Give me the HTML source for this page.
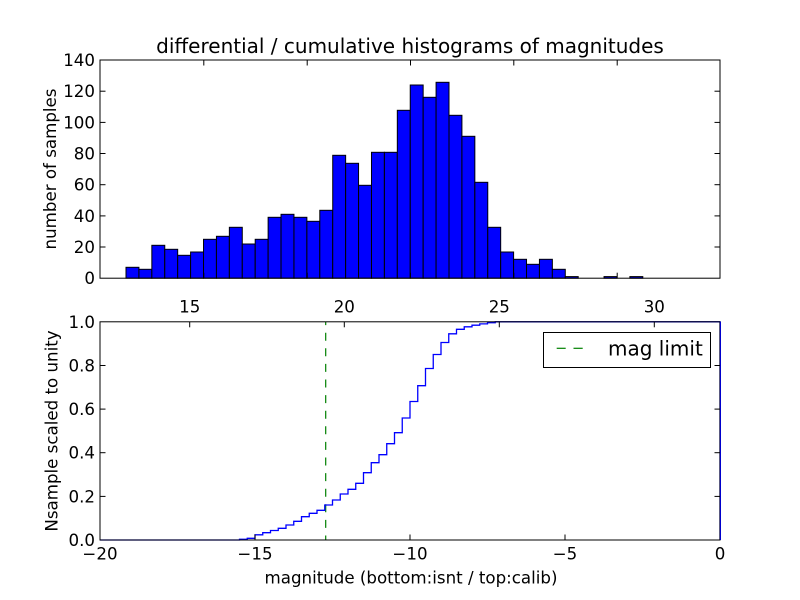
<!DOCTYPE html>
<html>
<head>
<meta charset="utf-8">
<style>
html,body{margin:0;padding:0;background:#fff;}
svg{display:block;}
text{font-family:"DejaVu Sans","Liberation Sans",sans-serif;fill:#000;}
</style>
</head>
<body>
<svg width="800" height="600" viewBox="0 0 800 600" xmlns="http://www.w3.org/2000/svg">
<rect x="0" y="0" width="800" height="600" fill="#fff"/>

<!-- ============ TOP HISTOGRAM ============ -->
<g fill="#0000ff" stroke="#000" stroke-width="1">
<rect x="126.00" y="267.3" width="12.92" height="10.9"/>
<rect x="138.92" y="269.3" width="12.92" height="8.9"/>
<rect x="151.84" y="245.3" width="12.92" height="32.9"/>
<rect x="164.76" y="249.3" width="12.92" height="28.9"/>
<rect x="177.68" y="255.3" width="12.92" height="22.9"/>
<rect x="190.60" y="252.0" width="12.92" height="26.2"/>
<rect x="203.52" y="239.3" width="12.92" height="38.9"/>
<rect x="216.44" y="236.3" width="12.92" height="41.9"/>
<rect x="229.36" y="227.3" width="12.92" height="50.9"/>
<rect x="242.28" y="244.0" width="12.92" height="34.2"/>
<rect x="255.20" y="239.3" width="12.92" height="38.9"/>
<rect x="268.12" y="217.3" width="12.92" height="60.9"/>
<rect x="281.04" y="214.3" width="12.92" height="63.9"/>
<rect x="293.96" y="217.3" width="12.92" height="60.9"/>
<rect x="306.88" y="221.3" width="12.92" height="56.9"/>
<rect x="319.80" y="210.3" width="12.92" height="67.9"/>
<rect x="332.72" y="155.3" width="12.92" height="122.9"/>
<rect x="345.64" y="163.3" width="12.92" height="114.9"/>
<rect x="358.56" y="185.3" width="12.92" height="92.9"/>
<rect x="371.48" y="152.3" width="12.92" height="125.9"/>
<rect x="384.40" y="152.3" width="12.92" height="125.9"/>
<rect x="397.32" y="110.3" width="12.92" height="167.9"/>
<rect x="410.24" y="85.0" width="12.92" height="193.2"/>
<rect x="423.16" y="97.3" width="12.92" height="180.9"/>
<rect x="436.08" y="82.3" width="12.92" height="195.9"/>
<rect x="449.00" y="115.3" width="12.92" height="162.9"/>
<rect x="461.92" y="136.3" width="12.92" height="141.9"/>
<rect x="474.84" y="182.3" width="12.92" height="95.9"/>
<rect x="487.76" y="227.3" width="12.92" height="50.9"/>
<rect x="500.68" y="252.0" width="12.92" height="26.2"/>
<rect x="513.60" y="259.3" width="12.92" height="18.9"/>
<rect x="526.52" y="264.3" width="12.92" height="13.9"/>
<rect x="539.44" y="259.3" width="12.92" height="18.9"/>
<rect x="552.36" y="269.3" width="12.92" height="8.9"/>
<rect x="565.28" y="276.6" width="12.92" height="1.6"/>
<rect x="604.04" y="276.6" width="12.92" height="1.6"/>
<rect x="629.88" y="276.6" width="12.92" height="1.6"/>
</g>

<!-- top axes frame -->
<rect x="100" y="60" width="620" height="218.2" fill="none" stroke="#000" stroke-width="1"/>

<!-- top ticks -->
<g stroke="#000" stroke-width="1">
  <!-- left/right y ticks -->
  <line x1="100" y1="247.0" x2="105.5" y2="247.0"/><line x1="720" y1="247.0" x2="714.5" y2="247.0"/>
  <line x1="100" y1="215.9" x2="105.5" y2="215.9"/><line x1="720" y1="215.9" x2="714.5" y2="215.9"/>
  <line x1="100" y1="184.7" x2="105.5" y2="184.7"/><line x1="720" y1="184.7" x2="714.5" y2="184.7"/>
  <line x1="100" y1="153.5" x2="105.5" y2="153.5"/><line x1="720" y1="153.5" x2="714.5" y2="153.5"/>
  <line x1="100" y1="122.4" x2="105.5" y2="122.4"/><line x1="720" y1="122.4" x2="714.5" y2="122.4"/>
  <line x1="100" y1="91.2" x2="105.5" y2="91.2"/><line x1="720" y1="91.2" x2="714.5" y2="91.2"/>
  <!-- top/bottom x ticks -->
  <line x1="203.8" y1="60" x2="203.8" y2="65.5"/><line x1="203.8" y1="278.2" x2="203.8" y2="272.7"/>
  <line x1="307.2" y1="60" x2="307.2" y2="65.5"/><line x1="307.2" y1="278.2" x2="307.2" y2="272.7"/>
  <line x1="410.5" y1="60" x2="410.5" y2="65.5"/><line x1="410.5" y1="278.2" x2="410.5" y2="272.7"/>
  <line x1="513.8" y1="60" x2="513.8" y2="65.5"/><line x1="513.8" y1="278.2" x2="513.8" y2="272.7"/>
  <line x1="617.2" y1="60" x2="617.2" y2="65.5"/><line x1="617.2" y1="278.2" x2="617.2" y2="272.7"/>
</g>

<!-- top y tick labels -->
<g font-size="16.67" text-anchor="end">
  <text x="95" y="284.2">0</text>
  <text x="95" y="253.0">20</text>
  <text x="95" y="221.9">40</text>
  <text x="95" y="190.7">60</text>
  <text x="95" y="159.5">80</text>
  <text x="95" y="128.4">100</text>
  <text x="95" y="97.2">120</text>
  <text x="95" y="66.0">140</text>
</g>

<text x="410" y="53" font-size="20" text-anchor="middle">differential / cumulative histograms of magnitudes</text>
<text transform="translate(56,169) rotate(-90)" font-size="16.67" text-anchor="middle">number of samples</text>

<!-- ============ BOTTOM PLOT ============ -->
<!-- green dashed mag limit -->
<line x1="325.7" y1="321.8" x2="325.7" y2="540" stroke="#008000" stroke-width="1.2" stroke-dasharray="8 7.6" stroke-dashoffset="4.7"/>

<!-- cumulative step -->
<path d="M100,540 H239.5 V539.3 H247.25 V538.3 H255 V534.8 H262.75 V532.7 H270.5 V530.5 H278.25 V528.3 H286 V525 H293.75 V521.3 H301.5 V516.7 H309.25 V513.3 H317 V510.3 H324.75 V505 H332.5 V500 H340.25 V494 H348 V489.3 H355.75 V483.3 H363.5 V472.7 H371.25 V462.7 H379 V454.7 H386.75 V443.7 H394.5 V432.7 H402.25 V418 H410 V401.5 H417.75 V385.7 H425.5 V368.5 H433.25 V354.5 H441 V342.5 H448.75 V333.8 H456.5 V329.3 H464.25 V326.8 H472 V325.2 H479.75 V323.9 H487.5 V322.7 H495.25 V321.8 H720 V540" fill="none" stroke="#0000ff" stroke-width="1.3"/>

<!-- bottom axes frame -->
<rect x="100" y="321.8" width="620" height="218.2" fill="none" stroke="#000" stroke-width="1"/>
<line x1="720.6" y1="321.8" x2="720.6" y2="540" stroke="#0000ff" stroke-width="0.8"/>

<g stroke="#000" stroke-width="1">
  <!-- bottom x ticks -->
  <line x1="255" y1="540" x2="255" y2="534.5"/>
  <line x1="410" y1="540" x2="410" y2="534.5"/>
  <line x1="565" y1="540" x2="565" y2="534.5"/>
  <!-- top twin x ticks -->
  <line x1="189.7" y1="321.8" x2="189.7" y2="327.3"/>
  <line x1="344.3" y1="321.8" x2="344.3" y2="327.3"/>
  <line x1="499.3" y1="321.8" x2="499.3" y2="327.3"/>
  <line x1="654.3" y1="321.8" x2="654.3" y2="327.3"/>
  <!-- y ticks -->
  <line x1="100" y1="496.4" x2="105.5" y2="496.4"/><line x1="720" y1="496.4" x2="714.5" y2="496.4"/>
  <line x1="100" y1="452.7" x2="105.5" y2="452.7"/><line x1="720" y1="452.7" x2="714.5" y2="452.7"/>
  <line x1="100" y1="409.1" x2="105.5" y2="409.1"/><line x1="720" y1="409.1" x2="714.5" y2="409.1"/>
  <line x1="100" y1="365.5" x2="105.5" y2="365.5"/><line x1="720" y1="365.5" x2="714.5" y2="365.5"/>
</g>

<!-- twin top labels -->
<g font-size="16.67" text-anchor="middle">
  <text x="189.7" y="312.3">15</text>
  <text x="344.3" y="312.3">20</text>
  <text x="499.3" y="312.3">25</text>
  <text x="654.3" y="312.3">30</text>
</g>

<!-- bottom x labels -->
<g font-size="16.67" text-anchor="middle">
  <text x="100" y="559.5">−20</text>
  <text x="255" y="559.5">−15</text>
  <text x="410" y="559.5">−10</text>
  <text x="565" y="559.5">−5</text>
  <text x="720" y="559.5">0</text>
</g>

<!-- bottom y labels -->
<g font-size="16.67" text-anchor="end">
  <text x="95" y="546">0.0</text>
  <text x="95" y="502.4">0.2</text>
  <text x="95" y="458.7">0.4</text>
  <text x="95" y="415.1">0.6</text>
  <text x="95" y="371.5">0.8</text>
  <text x="95" y="327.8">1.0</text>
</g>

<text transform="translate(57.5,431) rotate(-90)" font-size="16.67" text-anchor="middle">Nsample scaled to unity</text>
<text x="411" y="583.7" font-size="16.67" text-anchor="middle">magnitude (bottom:isnt / top:calib)</text>

<!-- legend -->
<rect x="543.5" y="332.5" width="167" height="35" fill="#fff" stroke="#000" stroke-width="1"/>
<line x1="556.7" y1="348.3" x2="565.7" y2="348.3" stroke="#008000" stroke-width="1.2"/>
<line x1="573.5" y1="348.3" x2="582.7" y2="348.3" stroke="#008000" stroke-width="1.2"/>
<text x="608" y="355.5" font-size="20">mag limit</text>
</svg>
</body>
</html>
